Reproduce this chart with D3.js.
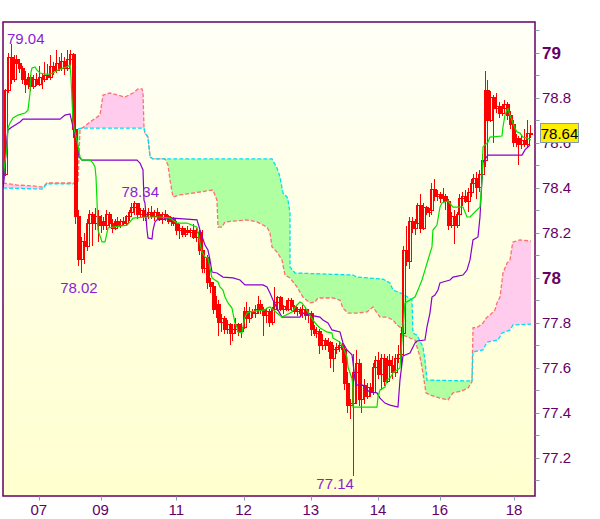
<!DOCTYPE html>
<html><head><meta charset="utf-8">
<script src="https://cdn.jsdelivr.net/npm/d3@7"></script>
<style>
body{margin:0;background:#fff;}
svg{display:block;font-family:"Liberation Sans",Arial,sans-serif;}
</style>
</head><body>
<svg id="c" width="600" height="519"></svg>
<script>
// ---------- DATA ----------
const open = [78.46,78.83,78.98,78.88,78.97,78.95,78.93,78.88,78.86,78.89,78.85,78.88,78.86,78.89,78.88,78.90,78.89,78.94,78.92,78.95,78.93,78.96,78.93,78.97,78.99,78.66,78.27,78.08,78.16,78.14,78.24,78.28,78.24,78.27,78.23,78.25,78.23,78.28,78.24,78.22,78.25,78.23,78.25,78.24,78.27,78.29,78.31,78.33,78.28,78.30,78.27,78.28,78.29,78.27,78.29,78.28,78.26,78.28,78.27,78.25,78.26,78.24,78.21,78.22,78.19,78.21,78.20,78.21,78.18,78.20,78.12,78.04,78.09,77.98,77.96,77.86,77.88,77.80,77.82,77.77,77.79,77.75,77.77,77.79,77.76,77.78,77.85,77.82,77.85,77.84,77.86,77.88,77.86,77.83,77.85,77.80,77.86,77.89,77.91,77.86,77.87,77.86,77.90,77.87,77.85,77.86,77.84,77.86,77.83,77.84,77.77,77.75,77.76,77.70,77.72,77.70,77.71,77.64,77.68,77.69,77.70,77.68,77.53,77.43,77.44,77.58,77.62,77.46,77.52,77.47,77.51,77.49,77.60,77.63,77.57,77.64,77.54,77.63,77.61,77.58,77.64,77.66,77.75,78.12,78.07,78.25,78.22,78.24,78.32,78.22,78.31,78.29,78.30,78.39,78.36,78.37,78.35,78.36,78.34,78.23,78.27,78.23,78.28,78.35,78.36,78.34,78.38,78.42,78.44,78.40,78.46,78.52,78.83,78.70,78.80,78.75,78.76,78.73,78.75,78.77,78.72,78.68,78.60,78.62,78.59,78.61,78.59,78.64];
const high = [78.84,79.00,79.04,78.99,78.99,78.97,78.94,78.92,78.91,78.90,78.90,78.91,78.94,78.91,78.96,78.95,78.99,78.96,79.01,78.98,79.00,78.98,79.01,79.01,79.00,78.68,78.30,78.18,78.20,78.26,78.30,78.29,78.31,78.30,78.28,78.27,78.30,78.29,78.26,78.26,78.27,78.26,78.27,78.28,78.30,78.33,78.34,78.33,78.31,78.31,78.30,78.31,78.32,78.30,78.31,78.29,78.29,78.30,78.28,78.27,78.27,78.25,78.24,78.23,78.22,78.23,78.22,78.24,78.22,78.21,78.21,78.10,78.10,78.00,77.98,77.92,77.90,77.84,77.83,77.81,77.80,77.79,77.82,77.80,77.80,77.87,77.89,77.87,77.86,77.88,77.92,77.90,77.87,77.86,77.86,77.87,77.96,77.92,77.92,77.88,77.90,77.91,77.91,77.88,77.87,77.87,77.88,77.87,77.86,77.85,77.79,77.78,77.77,77.75,77.73,77.73,77.72,77.70,77.71,77.72,77.71,77.69,77.58,77.46,77.66,77.68,77.64,77.54,77.55,77.53,77.53,77.62,77.65,77.67,77.66,77.66,77.65,77.66,77.65,77.66,77.70,77.78,78.14,78.23,78.27,78.27,78.26,78.33,78.37,78.33,78.32,78.31,78.42,78.44,78.39,78.38,78.40,78.37,78.35,78.29,78.30,78.29,78.37,78.38,78.39,78.40,78.44,78.46,78.47,78.48,78.55,78.92,78.88,78.83,78.81,78.82,78.78,78.77,78.79,78.78,78.74,78.70,78.64,78.63,78.63,78.66,78.70,78.68];
const low = [78.45,78.82,78.86,78.87,78.88,78.91,78.86,78.82,78.84,78.83,78.84,78.85,78.85,78.84,78.87,78.88,78.88,78.90,78.91,78.92,78.92,78.90,78.92,78.94,78.62,78.24,78.05,78.02,78.06,78.12,78.20,78.14,78.21,78.16,78.20,78.21,78.21,78.22,78.20,78.21,78.22,78.22,78.23,78.23,78.25,78.27,78.28,78.26,78.27,78.25,78.25,78.26,78.26,78.25,78.26,78.25,78.24,78.25,78.24,78.23,78.23,78.19,78.17,78.18,78.18,78.19,78.18,78.17,78.16,78.10,78.02,78.02,77.95,77.93,77.84,77.82,77.74,77.76,77.75,77.75,77.70,77.72,77.75,77.74,77.73,77.77,77.80,77.80,77.82,77.82,77.84,77.84,77.74,77.80,77.78,77.79,77.83,77.85,77.85,77.84,77.85,77.85,77.85,77.84,77.83,77.83,77.82,77.81,77.80,77.74,77.74,77.73,77.66,77.68,77.68,77.67,77.60,77.58,77.66,77.67,77.62,77.50,77.40,77.37,77.12,77.44,77.43,77.40,77.44,77.46,77.47,77.48,77.56,77.55,77.50,77.52,77.53,77.60,77.55,77.56,77.62,77.60,77.73,78.05,78.04,78.20,78.19,78.22,78.20,78.21,78.28,78.27,78.28,78.34,78.34,78.33,78.33,78.30,78.21,78.22,78.15,78.22,78.27,78.32,78.33,78.29,78.36,78.40,78.35,78.38,78.44,78.49,78.68,78.69,78.60,78.73,78.71,78.72,78.74,78.70,78.66,78.58,78.58,78.50,78.57,78.58,78.58,78.62];
const close = [78.83,78.98,78.88,78.97,78.95,78.93,78.88,78.86,78.89,78.85,78.88,78.86,78.89,78.88,78.90,78.89,78.94,78.92,78.95,78.93,78.96,78.93,78.97,78.99,78.66,78.27,78.08,78.16,78.14,78.24,78.28,78.24,78.27,78.23,78.25,78.23,78.28,78.24,78.22,78.25,78.23,78.25,78.24,78.27,78.29,78.31,78.33,78.28,78.30,78.27,78.28,78.29,78.27,78.29,78.28,78.26,78.28,78.27,78.25,78.26,78.24,78.21,78.22,78.19,78.21,78.20,78.21,78.18,78.20,78.12,78.04,78.09,77.98,77.96,77.86,77.88,77.80,77.82,77.77,77.79,77.75,77.77,77.79,77.76,77.78,77.85,77.82,77.85,77.84,77.86,77.88,77.86,77.83,77.85,77.80,77.86,77.89,77.91,77.86,77.87,77.86,77.90,77.87,77.85,77.86,77.84,77.86,77.83,77.84,77.77,77.75,77.76,77.70,77.72,77.70,77.71,77.64,77.68,77.69,77.70,77.68,77.53,77.43,77.44,77.58,77.62,77.46,77.52,77.47,77.51,77.49,77.60,77.63,77.57,77.64,77.54,77.63,77.61,77.58,77.64,77.66,77.75,78.12,78.07,78.25,78.22,78.24,78.32,78.22,78.31,78.29,78.30,78.39,78.36,78.37,78.35,78.36,78.34,78.23,78.27,78.23,78.28,78.35,78.36,78.34,78.38,78.42,78.44,78.40,78.46,78.52,78.83,78.70,78.80,78.75,78.76,78.73,78.75,78.77,78.72,78.68,78.60,78.62,78.59,78.61,78.59,78.64,78.64];

// line vertices: [candle index, price]
const tenkan = [[-0.8,78.433],[-0.44,78.478],[0.63,78.58],[0.98,78.664],[1.7,78.687],[2.77,78.709],[4.55,78.722],[7.05,78.731],[8.12,78.744],[8.83,78.82],[9.19,78.913],[9.54,78.931],[10.61,78.936],[11.33,78.922],[12.4,78.909],[14.18,78.904],[15.96,78.904],[17.03,78.909],[18.82,78.922],[20.6,78.931],[22.03,78.936],[23.1,78.944],[23.45,78.891],[23.81,78.789],[24.17,78.7],[24.52,78.664],[25.24,78.624],[25.59,78.611],[26.66,78.536],[27.38,78.522],[30.23,78.522],[31.3,78.509],[32.01,78.491],[32.37,78.447],[32.72,78.344],[33.08,78.211],[34.51,78.158],[35.58,78.158],[36.29,78.198],[36.65,78.22],[38.43,78.224],[43.42,78.233],[44.49,78.247],[45.56,78.264],[50.56,78.269],[55.19,78.269],[58.76,78.264],[61.26,78.242],[64.82,78.242],[68.39,78.224],[68.75,78.202],[69.46,78.153],[70.17,78.113],[71.24,78.091],[72.31,78.087],[73.02,78.042],[73.74,77.998],[74.81,77.989],[75.88,77.98],[76.59,77.958],[77.66,77.944],[78.38,77.913],[79.45,77.887],[80.87,77.864],[81.23,77.842],[81.94,77.798],[82.65,77.78],[83.01,77.758],[84.43,77.753],[84.79,77.78],[85.5,77.824],[86.22,77.842],[87.29,77.847],[92.64,77.856],[93.35,77.864],[94.42,77.869],[96.92,77.842],[98.7,77.824],[102.27,77.847],[104.05,77.878],[105.12,77.891],[105.84,77.887],[106.9,77.869],[107.97,77.847],[109.76,77.811],[111.18,77.789],[112.25,77.776],[114.75,77.758],[116.53,77.753],[116.89,77.731],[119.39,77.713],[120.46,77.691],[121.88,77.647],[122.24,77.602],[123.67,77.551],[124.02,77.513],[124.02,77.424],[132.58,77.424],[132.94,77.469],[133.65,77.5],[135.43,77.513],[136.15,77.544],[137.22,77.553],[137.93,77.567],[138.29,77.576],[139.71,77.589],[140.78,77.598],[141.5,77.722],[142.57,77.887],[144.35,77.9],[146.14,77.913],[147.2,77.944],[148.63,77.989],[149.7,78.033],[150.77,78.078],[152.2,78.136],[152.55,78.211],[153.98,78.233],[155.05,78.313],[155.77,78.331],[157.91,78.34],[159.69,78.313],[163.26,78.313],[164.69,78.269],[165.76,78.269],[168.25,78.3],[169.32,78.313],[170.04,78.433],[170.4,78.58],[171.11,78.589],[172.18,78.602],[172.89,78.624],[177.17,78.629],[177.53,78.669],[178.24,78.722],[178.96,78.744],[179.31,78.749],[180.03,78.722],[181.1,78.687],[181.81,78.664],[182.53,78.647],[183.6,78.642],[184.67,78.624],[186.1,78.62],[187.52,78.611]];

const kijun = [[-0.8,78.402],[-0.44,78.433],[0.63,78.624],[0.98,78.656],[2.41,78.669],[5.26,78.691],[6.33,78.704],[19.53,78.704],[21.32,78.722],[23.1,78.727],[24.17,78.669],[24.88,78.633],[25.59,78.611],[26.31,78.536],[27.38,78.522],[46.99,78.522],[48.06,78.509],[49.13,78.478],[49.49,78.344],[49.84,78.331],[50.56,78.211],[50.91,78.176],[52.34,78.171],[52.7,78.211],[53.41,78.247],[54.12,78.256],[59.83,78.264],[68.39,78.256],[69.46,78.211],[71.24,78.144],[72.31,78.122],[73.02,78.078],[73.74,78.024],[75.52,78.02],[77.66,78.002],[81.23,77.998],[83.72,77.989],[85.5,77.967],[91.92,77.967],[93.35,77.958],[94.42,77.931],[95.49,77.9],[96.92,77.864],[98.7,77.824],[105.12,77.824],[106.19,77.842],[108.69,77.833],[112.25,77.824],[113.32,77.811],[115.11,77.798],[116.53,77.767],[119.39,77.758],[120.46,77.709],[121.88,77.678],[123.67,77.656],[124.02,77.624],[124.74,77.544],[125.45,77.522],[127.59,77.522],[129.02,77.5],[130.09,77.491],[132.58,77.487],[133.65,77.464],[135.43,77.442],[137.22,77.433],[140.07,77.424],[140.78,77.544],[141.85,77.651],[144.35,77.664],[146.14,77.709],[146.85,77.718],[149.7,77.722],[150.41,77.78],[151.48,77.842],[152.2,77.913],[153.27,77.922],[154.34,77.944],[155.05,77.976],[156.12,77.98],[158.62,77.989],[159.69,78.002],[163.26,78.011],[164.69,78.033],[165.76,78.078],[166.83,78.167],[168.61,78.18],[169.32,78.269],[170.04,78.433],[170.4,78.513],[172.18,78.544],[184.31,78.544],[185.38,78.567],[187.17,78.589]];

// cloud spans (red dashed = A, cyan dashed = B)
const senkouA = [[-0.8,78.42],[4.19,78.411],[9.9,78.407],[13.47,78.402],[14.89,78.42],[25.24,78.42],[25.95,78.42],[26.66,78.656],[27.38,78.664],[30.23,78.691],[33.79,78.722],[34.86,78.811],[37.36,78.82],[42.71,78.802],[45.56,78.82],[47.34,78.838],[48.77,78.838],[49.13,78.824],[49.49,78.664],[49.84,78.642],[50.91,78.624],[51.63,78.536],[52.7,78.527],[56.98,78.527],[58.05,78.5],[58.76,78.433],[59.83,78.358],[62.33,78.367],[69.46,78.38],[74.09,78.389],[75.52,78.344],[75.88,78.224],[77.31,78.224],[78.38,78.247],[86.22,78.256],[89.78,78.247],[93.35,78.224],[94.42,78.198],[95.14,78.136],[96.92,78.113],[98.7,78.078],[99.77,78.011],[101.56,77.998],[104.05,77.958],[106.19,77.913],[108.69,77.887],[110.47,77.891],[111.54,77.909],[116.89,77.909],[119.39,77.9],[120.46,77.864],[122.24,77.842],[125.45,77.842],[129.02,77.847],[131.16,77.869],[133.65,77.824],[136.15,77.824],[138.29,77.811],[139.71,77.789],[140.78,77.78],[141.85,77.744],[146.14,77.722],[147.92,77.647],[148.63,77.602],[150.06,77.487],[151.48,77.478],[155.05,77.464],[157.91,77.456],[159.69,77.487],[162.9,77.496],[165.04,77.509],[166.47,77.536],[166.83,77.776],[168.61,77.78],[170.4,77.798],[171.82,77.824],[172.89,77.833],[174.67,77.856],[175.39,77.887],[176.46,77.913],[177.53,78.02],[178.96,78.064],[180.03,78.078],[180.74,78.136],[181.1,78.158],[183.6,78.167],[187.52,78.162]];

const senkouB = [[-0.8,78.398],[13.47,78.393],[14.18,78.407],[14.89,78.416],[25.59,78.416],[25.77,78.66],[27.38,78.664],[49.49,78.664],[49.84,78.642],[50.91,78.624],[51.63,78.536],[52.7,78.527],[95.14,78.527],[96.92,78.487],[97.99,78.447],[99.06,78.376],[100.49,78.358],[100.84,78.344],[101.56,78.287],[101.56,78.047],[103.34,78.02],[124.02,78.011],[125.45,78.002],[134.72,77.993],[137.22,77.976],[138.29,77.944],[141.85,77.927],[145.07,77.9],[145.42,77.753],[146.85,77.744],[148.99,77.691],[149.7,77.633],[150.41,77.544],[166.47,77.54],[166.83,77.669],[170.4,77.678],[171.82,77.713],[175.75,77.722],[177.17,77.753],[180.03,77.767],[181.1,77.789],[187.52,77.793]];

const yTickVals = [77.1,77.2,77.3,77.4,77.5,77.6,77.7,77.8,77.9,78.0,78.1,78.2,78.3,78.4,78.5,78.6,78.7,78.8,78.9,79.0,79.1];
const yLabelVals = [77.2,77.4,77.6,77.8,78,78.2,78.4,78.6,78.8,79];
const yLabelText = ["77.2","77.4","77.6","77.8","78","78.2","78.4","78.6","78.8","79"];
const xTickIdx = [12,34,61,85,109,133,155,181.5];
const xTickText = ["07","09","11","12","13","14","16","18"];
const annoText = ["79.04","78.34","78.02","77.14"];
const annoIdx = [2,46,27,124];
const annoVal = [79.04,78.34,78.02,77.14];

// ---------- DRAW ----------
const L=3,T=22,R=535,B=496;
const svg = d3.select('#c');
const x = d3.scaleLinear().domain([-0.8,187.52]).range([3,531]);
const y = d3.scaleLinear().domain([77.0289,79.1356]).range([B,T]);

const defs = svg.append('defs');
const gr = defs.append('linearGradient').attr('id','bg').attr('x1',0).attr('y1',0).attr('x2',0).attr('y2',1);
gr.append('stop').attr('offset','0%').attr('stop-color','#fffff7');
gr.append('stop').attr('offset','100%').attr('stop-color','#ffffcf');
defs.append('clipPath').attr('id','plot').append('rect').attr('x',L).attr('y',T).attr('width',R-L).attr('height',B-T);

svg.append('rect').attr('x',L).attr('y',T).attr('width',R-L).attr('height',B-T).attr('fill','url(#bg)');

const g = svg.append('g').attr('clip-path','url(#plot)');

const areaDown = d3.area().x(d=>x(d[0])).y0(B).y1(d=>y(d[1]));
const areaUp = d3.area().x(d=>x(d[0])).y0(T).y1(d=>y(d[1]));
const line = d3.line().x(d=>x(d[0])).y(d=>y(d[1]));

defs.append('clipPath').attr('id','aboveB').append('path').attr('d',areaUp(senkouB));
defs.append('clipPath').attr('id','aboveA').append('path').attr('d',areaUp(senkouA));
g.append('g').attr('clip-path','url(#aboveB)').append('path').attr('d',areaDown(senkouA)).attr('fill','#ffccee');
g.append('g').attr('clip-path','url(#aboveA)').append('path').attr('d',areaDown(senkouB)).attr('fill','#b0ffa0');

g.append('path').attr('d',line(senkouA)).attr('fill','none').attr('stroke','#ff6f6f').attr('stroke-width',1.3).attr('stroke-dasharray','4,2');
g.append('path').attr('d',line(senkouB)).attr('fill','none').attr('stroke','#00e0f0').attr('stroke-width',1.3).attr('stroke-dasharray','4,2');

// candles
const cg = g.append('g').attr('shape-rendering','crispEdges');
open.forEach((o,i)=>{
  const cx = Math.round(x(i));
  cg.append('line').attr('x1',cx+0.5).attr('x2',cx+0.5).attr('y1',y(high[i])).attr('y2',y(low[i]))
    .attr('stroke','#ff0000').attr('stroke-width',1);
  const top = y(Math.max(o,close[i])), bot = y(Math.min(o,close[i]));
  cg.append('rect').attr('x',cx-1).attr('y',top).attr('width',3).attr('height',Math.max(1,bot-top))
    .attr('fill', close[i] < o ? '#ff0000' : 'none').attr('stroke','#ff0000').attr('stroke-width',1);
});

g.append('path').attr('d',line(kijun)).attr('fill','none').attr('stroke','#8800cc').attr('stroke-width',1.2);
g.append('path').attr('d',line(tenkan)).attr('fill','none').attr('stroke','#00e000').attr('stroke-width',1.2);

// frame
svg.append('rect').attr('x',L).attr('y',T).attr('width',R-L).attr('height',B-T)
  .attr('fill','none').attr('stroke','#660066').attr('stroke-width',1.5);

// right axis
yTickVals.forEach(v=>{
  const yy = Math.round(y(v))+0.5;
  svg.append('line').attr('x1',R+0.5).attr('x2',R+4.5).attr('y1',yy).attr('y2',yy).attr('stroke','#8a9bb0').attr('stroke-width',1);
});
yLabelVals.forEach((v,k)=>{
  const bold = (v===78||v===79);
  svg.append('text').attr('x',542).attr('y',y(v)).attr('dy', bold?'0.36em':'0.36em')
    .attr('font-size', bold?17:15).attr('font-weight', bold?'bold':'normal')
    .attr('fill','#660066').text(yLabelText[k]);
});

// bottom axis
xTickIdx.forEach((t,k)=>{
  const xx = Math.round(x(t))+0.5;
  svg.append('line').attr('x1',xx).attr('x2',xx).attr('y1',B+0.5).attr('y2',B+4.5).attr('stroke','#8a9bb0');
  svg.append('text').attr('x',x(t)).attr('y',515).attr('text-anchor','middle').attr('font-size',15)
    .attr('fill','#660066').text(xTickText[k]);
});

// annotations
const annoStyle = [
  {anchor:'start', dx:()=>7-x(annoIdx[0]), dy:0},
  {anchor:'middle', dx:()=>6, dy:-4},
  {anchor:'middle', dx:()=>-2, dy:20},
  {anchor:'end', dx:()=>1, dy:18},
];
annoText.forEach((t,k)=>{
  svg.append('text').attr('x',x(annoIdx[k])+annoStyle[k].dx()).attr('y',y(annoVal[k])+annoStyle[k].dy)
    .attr('text-anchor',annoStyle[k].anchor).attr('font-size',15).attr('fill','#8a1ed6').text(t);
});

// last price box
const last = close[close.length-1];
const ly = y(last);
svg.append('rect').attr('x',540.5).attr('y',ly-10).attr('width',38).attr('height',19)
  .attr('fill','#ffee00').attr('stroke','#8899aa').attr('stroke-width',1);
svg.append('text').attr('x',559.5).attr('y',ly+5.5).attr('text-anchor','middle').attr('font-size',15)
  .attr('fill','#000').text(last.toFixed(2));
</script>
</body></html>
